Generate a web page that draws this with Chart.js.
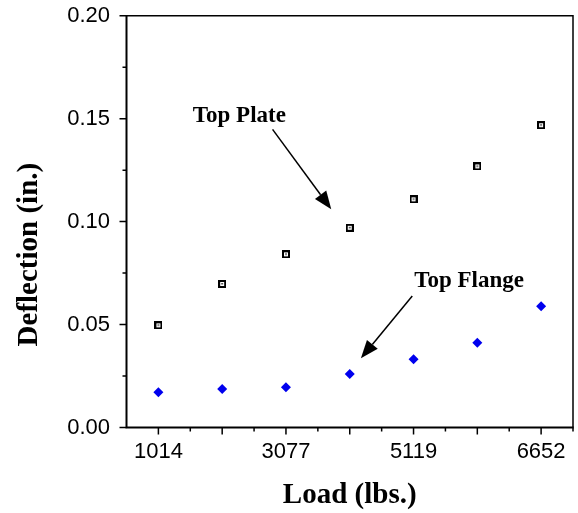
<!DOCTYPE html>
<html><head><meta charset="utf-8">
<script src="https://cdn.jsdelivr.net/npm/chart.js@4.4.1/dist/chart.umd.min.js"></script>
<style>html,body{margin:0;padding:0;background:#fff;} canvas{display:block;}</style>
</head><body>
<canvas id="c" width="578" height="513"></canvas>
<script>
// ---- data ----
const loadLabels = ['1014', '', '3077', '', '5119', '', '6652'];
const topPlate  = [0.0496, 0.0697, 0.0841, 0.0970, 0.1108, 0.1268, 0.1468];
const topFlange = [0.0171, 0.0187, 0.0195, 0.0260, 0.0331, 0.0412, 0.0589];
const yTicks = [0, 0.05, 0.10, 0.15, 0.20];
const yMinorTicks = [0.025, 0.075, 0.125, 0.175];
const yTitle = 'Deflection (in.)';
const xTitle = 'Load (lbs.)';
const notes = [
  {text: 'Top Plate',  x: 0.54, y: 0.1485, from: [1.79, 0.1448], to: [2.71, 0.1060]},
  {text: 'Top Flange', x: 4.01, y: 0.0684, from: [3.98, 0.0639], to: [3.175, 0.0336]}
];

const tickFont = {family: "'Liberation Sans', Arial, sans-serif", size: 22};
const titleFont = "bold 29px 'Liberation Serif', 'Times New Roman', serif";
const noteFont = "bold 23px 'Liberation Serif', 'Times New Roman', serif";

function squareMarker() {
  const c = document.createElement('canvas');
  c.width = 8; c.height = 8;
  const g = c.getContext('2d');
  g.fillStyle = '#000'; g.fillRect(0, 0, 8, 8);
  g.fillStyle = '#fff'; g.fillRect(2, 2, 4, 4);
  g.fillStyle = '#555'; g.fillRect(3, 3, 2, 1.5);
  return c;
}

const decor = {
  id: 'decor',
  afterDraw(chart) {
    const {ctx, chartArea: a, scales: {x, y}} = chart;
    ctx.save();
    ctx.strokeStyle = '#000';
    ctx.fillStyle = '#000';
    // frame
    ctx.lineWidth = 1.5;
    ctx.beginPath();
    ctx.moveTo(a.left, a.top); ctx.lineTo(a.right, a.top); ctx.lineTo(a.right, a.bottom);
    ctx.stroke();
    ctx.lineWidth = 2;
    ctx.beginPath();
    ctx.moveTo(a.left, a.top - 0.75); ctx.lineTo(a.left, a.bottom); ctx.lineTo(a.right + 0.75, a.bottom);
    ctx.stroke();
    // y ticks
    ctx.lineWidth = 1.5;
    ctx.beginPath();
    yTicks.forEach(v => { const p = y.getPixelForValue(v); ctx.moveTo(a.left - 7, p); ctx.lineTo(a.left, p); });
    yMinorTicks.forEach(v => { const p = y.getPixelForValue(v); ctx.moveTo(a.left - 4, p); ctx.lineTo(a.left, p); });
    // x ticks
    loadLabels.forEach((l, i) => {
      const p = x.getPixelForValue(i);
      ctx.moveTo(p, a.bottom); ctx.lineTo(p, a.bottom + 7);
      const q = x.getPixelForValue(i + 0.5);
      ctx.moveTo(q, a.bottom); ctx.lineTo(q, a.bottom + 4);
    });
    ctx.stroke();
    // y title
    ctx.save();
    ctx.font = titleFont;
    ctx.textAlign = 'center';
    ctx.textBaseline = 'alphabetic';
    ctx.translate(37, (a.top + a.bottom) / 2 + 33);
    ctx.rotate(-Math.PI / 2);
    ctx.fillText(yTitle, 0, 0);
    ctx.restore();
    // annotations
    ctx.font = noteFont;
    ctx.textAlign = 'left';
    ctx.textBaseline = 'alphabetic';
    notes.forEach(n => {
      ctx.fillText(n.text, x.getPixelForValue(n.x), y.getPixelForValue(n.y));
      const x0 = x.getPixelForValue(n.from[0]), y0 = y.getPixelForValue(n.from[1]);
      const x1 = x.getPixelForValue(n.to[0]), y1 = y.getPixelForValue(n.to[1]);
      const ang = Math.atan2(y1 - y0, x1 - x0);
      const hl = 18, hw = 7;
      const bx = x1 - hl * Math.cos(ang), by = y1 - hl * Math.sin(ang);
      ctx.lineWidth = 1.5;
      ctx.beginPath(); ctx.moveTo(x0, y0); ctx.lineTo(bx, by); ctx.stroke();
      ctx.beginPath();
      ctx.moveTo(x1, y1);
      ctx.lineTo(bx + hw * Math.sin(ang), by - hw * Math.cos(ang));
      ctx.lineTo(bx - hw * Math.sin(ang), by + hw * Math.cos(ang));
      ctx.closePath(); ctx.fill();
    });
    ctx.restore();
  }
};

new Chart(document.getElementById('c'), {
  type: 'line',
  data: {
    labels: loadLabels,
    datasets: [
      {label: 'Top Plate', data: topPlate, showLine: false, pointStyle: squareMarker(),
       pointRadius: 4, pointHoverRadius: 4},
      {label: 'Top Flange', data: topFlange, showLine: false, pointStyle: 'rectRot',
       pointRadius: 5, pointHoverRadius: 5, backgroundColor: '#0000ee', borderColor: '#0000ee', borderWidth: 0}
    ]
  },
  plugins: [decor],
  options: {
    responsive: false,
    animation: false,
    events: [],
    layout: {padding: {left: 0, right: 3.5, top: 15.7, bottom: 0}},
    plugins: {legend: {display: false}, tooltip: {enabled: false}},
    scales: {
      x: {
        type: 'category', offset: true,
        grid: {display: false, drawTicks: false},
        border: {display: false},
        ticks: {font: tickFont, color: '#000', padding: 11, maxRotation: 0, autoSkip: false},
        title: {display: true, text: xTitle, color: '#000', padding: 0,
                font: {family: "'Liberation Serif', 'Times New Roman', serif", size: 29, weight: 'bold'}},
        afterFit(s) { s.height = 85.5; s.paddingLeft = 0; s.paddingRight = 0; }
      },
      y: {
        type: 'linear', min: 0, max: 0.2,
        grid: {display: false, drawTicks: false},
        border: {display: false},
        afterBuildTicks(s) { s.ticks = yTicks.map(v => ({value: v})); },
        ticks: {font: tickFont, color: '#000', padding: 16.5, callback: v => Number(v).toFixed(2)},
        afterFit(s) { s.width = 126.5; s.paddingTop = 0; s.paddingBottom = 0; }
      }
    }
  }
});
</script>
</body></html>
